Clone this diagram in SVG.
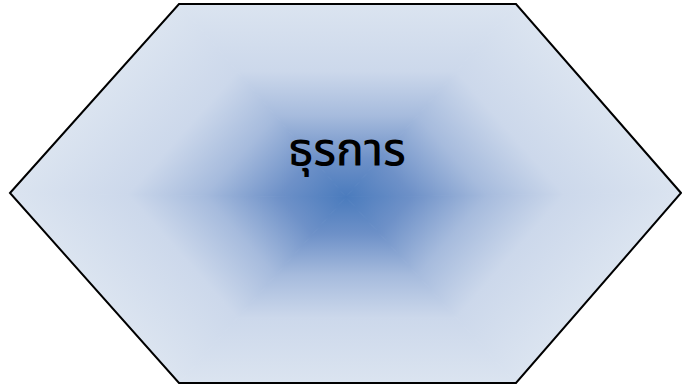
<svg xmlns="http://www.w3.org/2000/svg" width="682" height="389" viewBox="0 0 682 389">
<defs>
<style>
.seg{stroke-width:1;stroke-linejoin:round}
.lbl{font-family:"Noto Sans Thai","Noto Sans","DejaVu Sans",sans-serif;font-size:46px;font-weight:500;fill:#000;text-anchor:middle}
</style>
<linearGradient id="gT" gradientUnits="userSpaceOnUse" x1="346" y1="197" x2="346" y2="4">
<stop offset="0" stop-color="#4a7bbd"/><stop offset="0.2" stop-color="#6e91c8"/><stop offset="0.42" stop-color="#a6bbdd"/><stop offset="0.65" stop-color="#ccd8eb"/><stop offset="1" stop-color="#dbe4f0"/>
</linearGradient>
<linearGradient id="gB" href="#gT" x1="346" y1="197" x2="346" y2="383"/>
<linearGradient id="gAB" href="#gT" x1="346" y1="197" x2="157.3" y2="28.3"/>
<linearGradient id="gCD" href="#gT" x1="346" y1="197" x2="537.6" y2="28.6"/>
<linearGradient id="gDE" href="#gT" x1="346" y1="197" x2="534.5" y2="361.8"/>
<linearGradient id="gFA" href="#gT" x1="346" y1="197" x2="160.4" y2="362.1"/>
</defs>
<g id="node-hexagon">
<path d="M346,197 L10,193 L179,4 Z" fill="url(#gAB)" stroke="url(#gAB)" class="seg"/>
<path d="M346,197 L179,4 L516,4 Z" fill="url(#gT)" stroke="url(#gT)" class="seg"/>
<path d="M346,197 L516,4 L682,193 Z" fill="url(#gCD)" stroke="url(#gCD)" class="seg"/>
<path d="M346,197 L682,193 L516,383 Z" fill="url(#gDE)" stroke="url(#gDE)" class="seg"/>
<path d="M346,197 L516,383 L179,383 Z" fill="url(#gB)" stroke="url(#gB)" class="seg"/>
<path d="M346,197 L179,383 L10,193 Z" fill="url(#gFA)" stroke="url(#gFA)" class="seg"/>
<polygon points="10,193 179,4 516,4 681,193 516,383 179,383" fill="none" stroke="#000" stroke-width="2"/>
<text class="lbl" x="347" y="165">ธุรการ</text>
</g>
<g id="connectors"/>
</svg>
